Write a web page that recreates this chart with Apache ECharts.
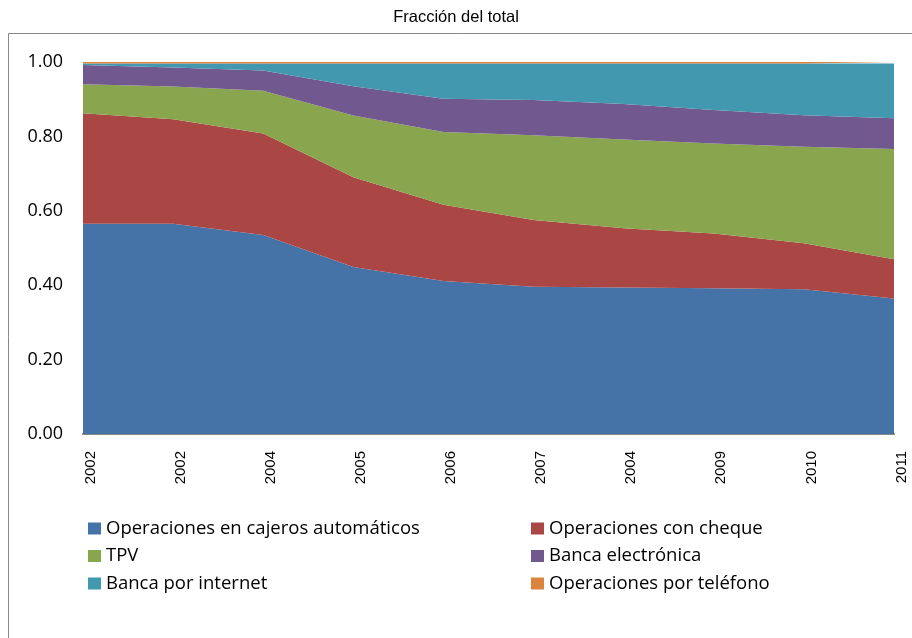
<!DOCTYPE html>
<html>
<head>
<meta charset="utf-8">
<script src="https://cdn.jsdelivr.net/npm/echarts@6/dist/echarts.min.js"></script>
<style>html,body{margin:0;padding:0;background:#fff}#c{width:912px;height:638px}</style>
</head>
<body>
<div id="c"></div>
<script>
const categories = ['2002','2002','2004','2005','2006','2007','2004','2009','2010','2011'];
const yTicks = [0, 0.2, 0.4, 0.6, 0.8, 1.0];
const seriesNames = ['Operaciones en cajeros automáticos','Operaciones con cheque','TPV','Banca electrónica','Banca por internet','Operaciones por teléfono'];
const cajeros  = [0.565,0.565,0.535,0.449,0.411,0.396,0.394,0.392,0.389,0.364];
const cheque   = [0.297,0.281,0.273,0.241,0.205,0.179,0.159,0.147,0.124,0.106];
const tpv      = [0.078,0.088,0.115,0.166,0.196,0.228,0.239,0.242,0.259,0.296];
const electr   = [0.052,0.051,0.054,0.079,0.089,0.095,0.095,0.090,0.085,0.083];
const internet = [0.004,0.011,0.019,0.061,0.095,0.098,0.109,0.125,0.139,0.147];
const telefono = [0.004,0.004,0.004,0.004,0.004,0.004,0.004,0.004,0.004,0.004];
const colors = ['#4572A7','#AA4643','#89A54E','#71588F','#4198AF','#DB843D'];
const values = [cajeros, cheque, tpv, electr, internet, telefono];

const chart = echarts.init(document.getElementById('c'), null, {renderer:'canvas'});
const legendText = {fontFamily:'Open Sans', fontSize:18.5, color:'#000'};
chart.setOption({
  animation:false,
  color: colors,
  title:{text:'Fracción del total', left:'center', top:4,
    textStyle:{fontFamily:'Liberation Sans', fontSize:16.5, fontWeight:'normal', color:'#000'}},
  graphic:[{type:'rect', shape:{x:8.5,y:33.5,width:920,height:640}, style:{fill:null, stroke:'#888', lineWidth:1}, silent:true}],
  legend:[
    {orient:'vertical', left:88, top:519, padding:0, itemWidth:13, itemHeight:12, itemGap:8.5, icon:'rect',
     data:[seriesNames[0],seriesNames[2],seriesNames[4]], textStyle:legendText},
    {orient:'vertical', left:531, top:519, padding:0, itemWidth:13, itemHeight:12, itemGap:8.5, icon:'rect',
     data:[seriesNames[1],seriesNames[3],seriesNames[5]], textStyle:legendText}
  ],
  grid:{left:83, right:18, top:62, bottom:204, containLabel:false},
  xAxis:{type:'category', data:categories, boundaryGap:false,
    axisLine:{lineStyle:{color:'#868686', width:2}},
    axisTick:{show:false},
    axisLabel:{rotate:90, margin:17, verticalAlign:'top', interval:0,
      fontFamily:'Liberation Sans', fontSize:15, color:'#000'}},
  yAxis:{type:'value', min:0, max:1, interval:0.2,
    splitLine:{show:false},
    axisLine:{show:false}, axisTick:{show:false},
    axisLabel:{margin:20, fontFamily:'Open Sans', fontSize:18, color:'#000',
      formatter:v=>v.toFixed(2)}},
  series: values.map((d,i)=>({
    name:seriesNames[i], type:'line', stack:'total', data:d,
    symbol:'none', lineStyle:{width:0}, areaStyle:{color:colors[i], opacity:1},
    itemStyle:{color:colors[i]}
  }))
});
</script>
</body>
</html>
